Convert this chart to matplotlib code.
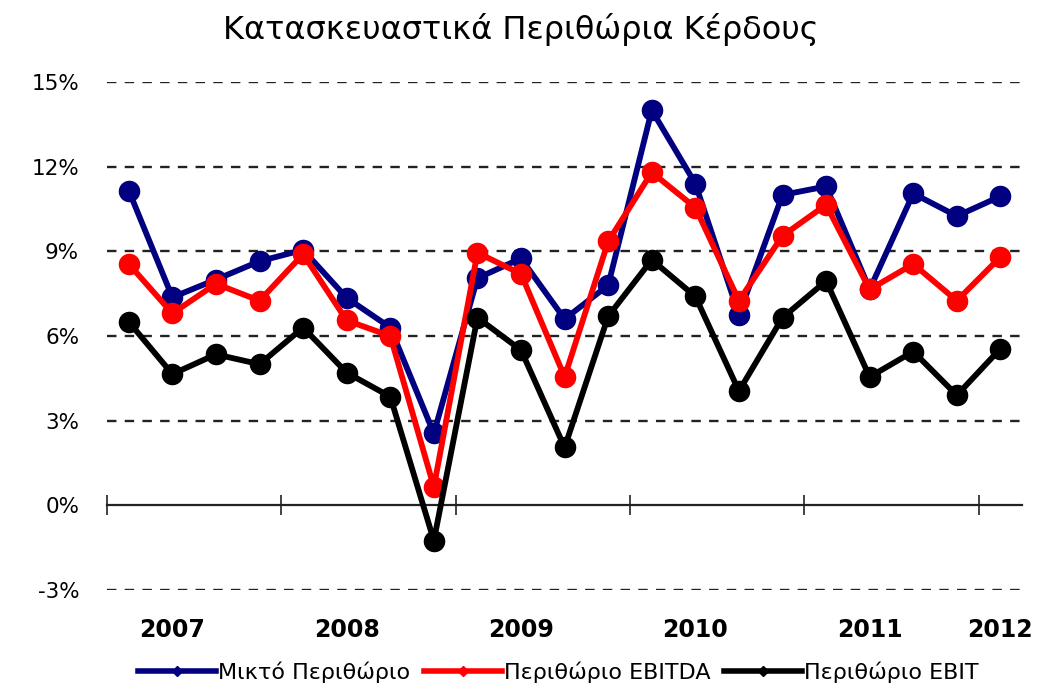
import matplotlib.pyplot as plt
from matplotlib.lines import Line2D
from matplotlib import font_manager

# quarterly margins, 2007 Q1 .. 2012 Q1 (%)
gross = [11.15, 7.37, 8.0, 8.65, 9.05, 7.35, 6.3, 2.55, 8.05, 8.75, 6.6,
         7.8, 14.0, 11.4, 6.75, 11.0, 11.3, 7.65, 11.05, 10.25, 10.95]
ebitda = [8.55, 6.8, 7.85, 7.25, 8.9, 6.55, 6.0, 0.65, 8.95, 8.2, 4.55,
          9.35, 11.8, 10.55, 7.25, 9.55, 10.65, 7.65, 8.55, 7.25, 8.8]
ebit = [6.5, 4.65, 5.35, 5.0, 6.3, 4.7, 3.85, -1.25, 6.65, 5.5, 2.05,
        6.7, 8.7, 7.4, 4.05, 6.65, 7.95, 4.55, 5.45, 3.9, 5.55]

years = ["2007", "2008", "2009", "2010", "2011", "2012"]
year_idx = [1, 5, 9, 13, 17, 20]   # quarter under which each year label sits
yticks = [-3, 0, 3, 6, 9, 12, 15]

series_names = ["Μικτό Περιθώριο", "Περιθώριο EBITDA", "Περιθώριο EBIT"]
colors = ["#000080", "#ff0000", "#000000"]

names = {f.name for f in font_manager.fontManager.ttflist}
fam = [f for f in ["Liberation Sans Narrow", "DejaVu Sans Condensed", "DejaVu Sans"] if f in names]
plt.rcParams['font.family'] = fam

fig = plt.figure(figsize=(10.42, 6.91), dpi=100)
ax = fig.add_axes([0.1027, 0.1462, 0.8783, 0.7351])

x = [i + 0.5 for i in range(len(gross))]
for vals, c in zip([gross, ebitda, ebit], colors):
    ax.plot(x, vals, color=c, lw=4.2, marker='o', ms=14.5, zorder=3)

ax.set_xlim(0, 21)
ax.set_ylim(-3, 15)

for v in yticks:
    if v != 0:
        ax.axhline(v, color='#222222', lw=1.7, ls=(0, (4, 3.5)), zorder=1)

ax.spines['bottom'].set_position(('data', 0))
ax.spines['bottom'].set_linewidth(1.6)
ax.spines['bottom'].set_color('#222222')
for s in ['left', 'top', 'right']:
    ax.spines[s].set_visible(False)

ax.set_xticks([0, 4, 8, 12, 16, 20])
ax.set_xticklabels([])
ax.tick_params(axis='x', direction='inout', length=14, width=1.2, color='#222222')

ax.set_yticks(yticks)
ax.set_yticklabels([f"{v}%" for v in yticks], fontsize=15.5)
ax.tick_params(axis='y', length=0, pad=20)

for lab, i in zip(years, year_idx):
    ax.text(i + 0.5, -0.078, lab, transform=ax.get_xaxis_transform(),
            ha='center', va='center', fontsize=17, fontweight='bold')

fig.text(0.5, 0.957, "Κατασκευαστικά Περιθώρια Κέρδους", ha='center', va='center', fontsize=23)

handles = [Line2D([], [], color=c, lw=4, marker='D', ms=5) for c in colors]
fig.legend(handles, series_names, loc='center', bbox_to_anchor=(0.536, 0.027), ncol=3,
           frameon=False, fontsize=16, handlelength=3.5, handletextpad=0.1, columnspacing=0.6)

fig.savefig("out.png", dpi=100)
